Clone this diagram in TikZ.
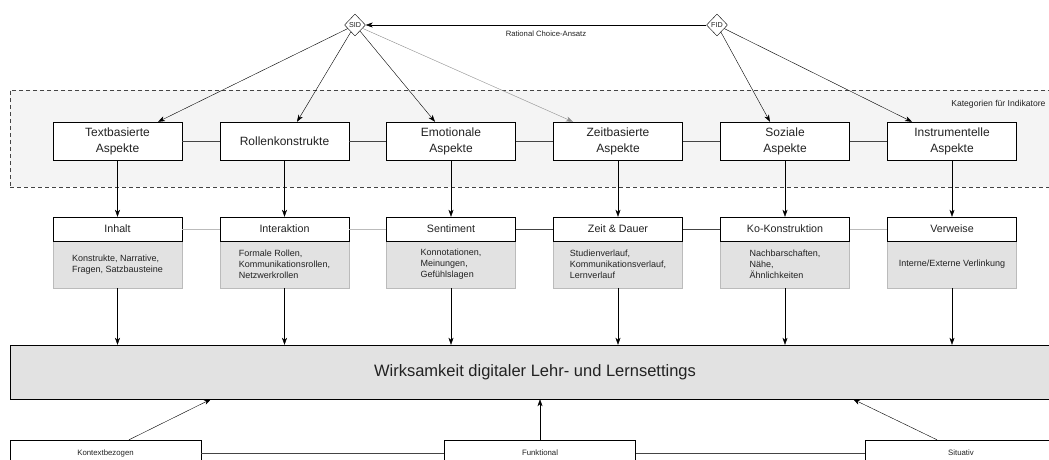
\documentclass[tikz,border=0pt]{standalone}
\usepackage{fontspec}
\setmainfont{Liberation Sans}
\usetikzlibrary{arrows.meta,shapes.geometric}
\definecolor{regionfill}{HTML}{F4F4F4}
\definecolor{boxgray}{HTML}{E2E2E2}
\definecolor{linedark}{HTML}{444444}
\definecolor{linelight}{HTML}{BBBBBB}
\definecolor{txt}{HTML}{222222}
\begin{document}
\begin{tikzpicture}[x=1pt,y=-1pt,
  every node/.style={text=txt},
  region/.style={draw=linedark, dashed, dash pattern=on 4pt off 3pt, fill=regionfill, minimum width=1050pt, minimum height=97pt, anchor=north west, inner sep=0pt},
  topbox/.style={draw=black, fill=white, minimum width=129pt, minimum height=38pt, align=center, font=\fontsize{12}{16}\selectfont, inner sep=1pt},
  hdrbox/.style={draw=black, fill=white, minimum width=129pt, minimum height=24pt, font=\fontsize{10.7}{13}\selectfont, inner sep=1pt},
  graybox/.style={draw=linelight, fill=boxgray, minimum width=129pt, minimum height=47pt, align=left, font=\fontsize{9}{11}\selectfont, inner sep=1pt},
  bigbox/.style={draw=black, fill=boxgray, minimum width=1050pt, minimum height=54pt, font=\fontsize{16.5}{20}\selectfont},
  botbox/.style={draw=black, fill=white, minimum width=191pt, minimum height=26pt, font=\fontsize{7.8}{9}\selectfont},
  dia/.style={draw=black, fill=white, diamond, minimum width=21pt, minimum height=22pt, inner sep=0pt, font=\fontsize{7.2}{8}\selectfont},
  arr/.style={draw=black, -{Stealth[length=7pt,width=5pt,inset=2pt]}},
  grayarr/.style={draw=black!45, -{Stealth[length=7pt,width=5pt,inset=2pt,fill=black!45]}},
  linkd/.style={draw=linedark},
  linkl/.style={draw=linelight}
]
\useasboundingbox (0,0) rectangle (1049,460);

% region
\node[region] (cat) at (10,90) {};
\node[anchor=east, font=\fontsize{8.6}{10}\selectfont] (catlbl) at (1049,104) {Kategorien für Indikatore};

% diamonds
\node[dia] (sid) at (355,25) {SID};
\node[dia] (fid) at (717,25) {FID};
\draw[arr] (fid) -- (sid);
\node[font=\fontsize{7.7}{9}\selectfont] (rca) at (546,34) {Rational Choice-Ansatz};

% top boxes
\node[topbox] (t1) at (117.5,141) {Textbasierte\\Aspekte};
\node[topbox] (t2) at (284.5,141) {Rollenkonstrukte};
\node[topbox] (t3) at (451,141) {Emotionale\\Aspekte};
\node[topbox] (t4) at (618,141) {Zeitbasierte\\Aspekte};
\node[topbox] (t5) at (785,141) {Soziale\\Aspekte};
\node[topbox] (t6) at (952,141) {Instrumentelle\\Aspekte};
\foreach \a/\b in {t1/t2,t2/t3,t3/t4,t4/t5,t5/t6} \draw[linkd] (\a) -- (\b);

% arrows from diamonds
\draw[arr] (sid) -- ([xshift=40.5pt]t1.north);
\draw[arr] (sid) -- ([xshift=12.5pt]t2.north);
\draw[arr] (sid) -- ([xshift=-16pt]t3.north);
\draw[grayarr] (sid) -- ([xshift=-45pt]t4.north);
\draw[arr] (fid) -- ([xshift=-15pt]t5.north);
\draw[arr] (fid) -- ([xshift=-40pt]t6.north);

% gray detail boxes
\node[graybox] (g1) at (117.5,264.5) {Konstrukte, Narrative,\\Fragen, Satzbausteine};
\node[graybox] (g2) at (284.5,264.5) {Formale Rollen,\\Kommunikationsrollen,\\Netzwerkrollen};
\node[graybox] (g3) at (451,264.5) {Konnotationen,\\Meinungen,\\Gefühlslagen};
\node[graybox] (g4) at (618,264.5) {Studienverlauf,\\Kommunikationsverlauf,\\Lernverlauf};
\node[graybox] (g5) at (785,264.5) {Nachbarschaften,\\Nähe,\\Ähnlichkeiten};
\node[graybox] (g6) at (952,264.5) {Interne/Externe Verlinkung};

% header boxes
\node[hdrbox] (h1) at (117.5,229) {Inhalt};
\node[hdrbox] (h2) at (284.5,229) {Interaktion};
\node[hdrbox] (h3) at (451,229) {Sentiment};
\node[hdrbox] (h4) at (618,229) {Zeit \& Dauer};
\node[hdrbox] (h5) at (785,229) {Ko-Konstruktion};
\node[hdrbox] (h6) at (952,229) {Verweise};
\draw[linkl] (h1) -- (h2);
\draw[linkl] (h2) -- (h3);
\draw[linkd] (h3) -- (h4);
\draw[linkd] (h4) -- (h5);
\draw[linkl] (h5) -- (h6);
\foreach \i in {1,...,6} \draw[arr] (t\i) -- (h\i);

% big box
\node[bigbox] (big) at (535,372) {Wirksamkeit digitaler Lehr- und Lernsettings};
\foreach \i in {1,...,6} \draw[arr] (g\i.south) -- (g\i.south |- big.north);

% bottom boxes
\node[botbox] (kb) at (105.5,453) {Kontextbezogen};
\node[botbox] (fk) at (540,453) {Funktional};
\node[botbox] (si) at (961,453) {Situativ};
\draw[linkd] (kb) -- (fk);
\draw[linkd] (fk) -- (si);
\draw[arr] ([xshift=23.5pt]kb.north) -- ([xshift=-324pt]big.south);
\draw[arr] (fk.north) -- (fk.north |- big.south);
\draw[arr] ([xshift=-24pt]si.north) -- ([xshift=318pt]big.south);
\end{tikzpicture}
\end{document}
